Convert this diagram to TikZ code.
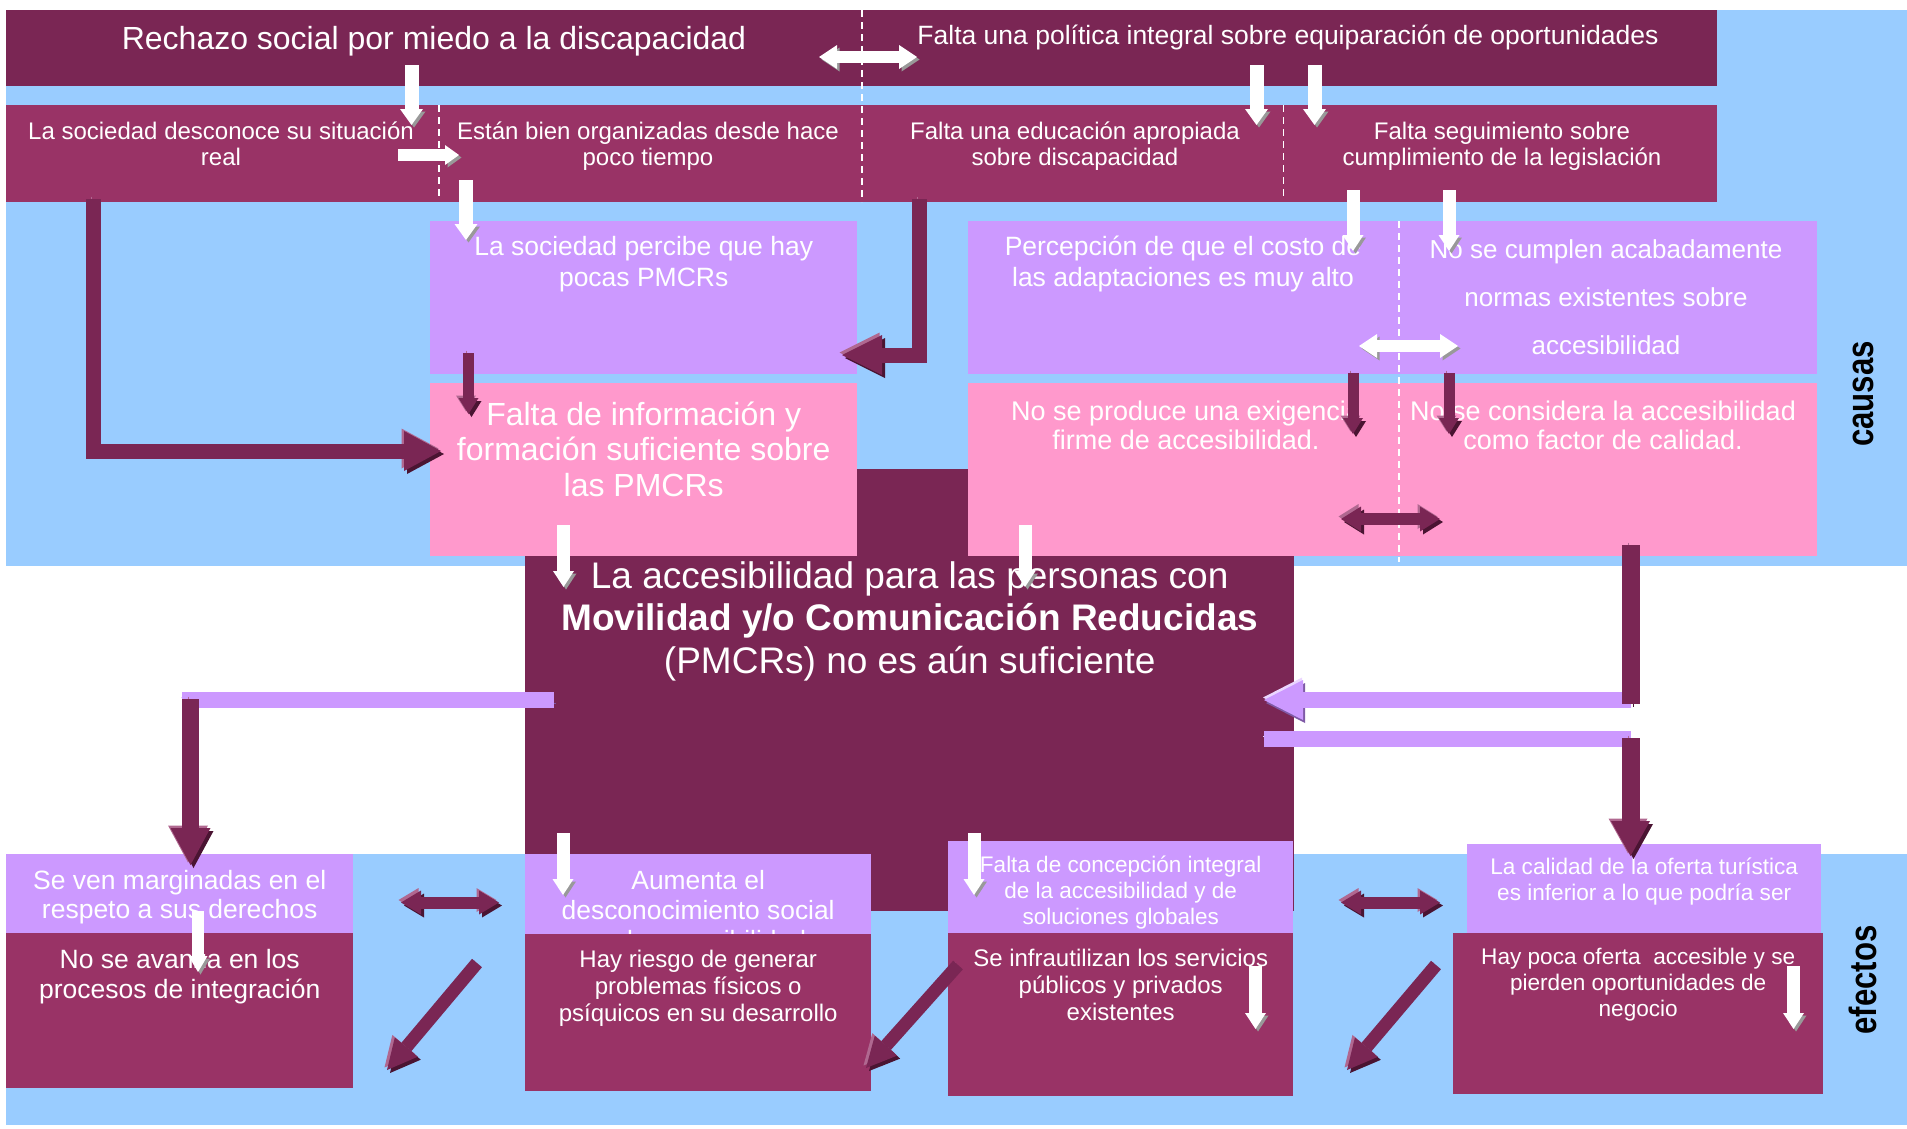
\documentclass[tikz,border=0pt]{standalone}
\usepackage{fontspec}
\setmainfont{Liberation Sans}
\newfontfamily\sidefont{Liberation Sans}[FakeStretch=0.82]
\usepackage{xcolor}
\usetikzlibrary{arrows.meta,positioning}

\definecolor{plum}{HTML}{7A2654}
\definecolor{plumhi}{HTML}{B06890}
\definecolor{plumlo}{HTML}{4A1432}
\definecolor{berry}{HTML}{993366}
\definecolor{lav}{HTML}{CC99FF}
\definecolor{lavhi}{HTML}{EBD6FF}
\definecolor{lavlo}{HTML}{7F5AA6}
\definecolor{rosa}{HTML}{FF99CC}
\definecolor{sky}{HTML}{99CCFF}

\newcommand{\fsz}[2]{\fontsize{#1}{#2}\selectfont}

\tikzset{
  panel/.style={rectangle, inner sep=0pt, anchor=north west, draw=none},
  txt/.style={text=white, align=center, inner sep=0pt, anchor=north},
  sidelabel/.style={text=black, inner sep=0pt, rotate=90, font=\sidefont\bfseries\fsz{38}{40}},
  sep/.style={draw=white, line width=1.5pt, dash pattern=on 7pt off 5pt},
  plumarrow/.style={draw=plum, line width=#1, line join=miter,
    preaction={draw=plumhi, transform canvas={shift={(-2.5pt,2.5pt)}}},
    preaction={draw=plumlo, transform canvas={shift={(3pt,-3pt)}}}},
  whitearrow/.style={draw=white, line width=#1, line join=miter,
    preaction={draw=black!40, transform canvas={shift={(2.5pt,-2.5pt)}}}},
  lavbar/.style={draw=lav, line width=#1,
    preaction={draw=lavhi, transform canvas={shift={(-1pt,2.5pt)}}},
    preaction={draw=lavlo, transform canvas={shift={(2pt,-3pt)}}}},
  headed/.style 2 args={arrows={-Triangle[length=#1,width=#2,line width=0pt]}},
  twohead/.style 2 args={arrows={Triangle[length=#1,width=#2,line width=0pt]-Triangle[length=#1,width=#2,line width=0pt]}},
}

\begin{document}
\begin{tikzpicture}[x=1pt, y=-1pt]
\useasboundingbox (0,0) rectangle (1907,1128);

% Backgrounds
\node[panel, fill=sky, minimum width=1901pt, minimum height=556pt] (causasbg) at (6,10) {};
\node[panel, fill=sky, minimum width=1901pt, minimum height=271pt] (efectosbg) at (6,854) {};

% Central problem
\node[panel, fill=plum, minimum width=769pt, minimum height=442pt] (core) at (525,469) {};

% Causes
\node[panel, fill=plum, minimum width=1711pt, minimum height=76pt] (row1) at (6,10) {};
\node[panel, fill=berry, minimum width=1711pt, minimum height=97pt] (row2) at (6,105) {};
\node[panel, fill=lav, minimum width=427pt, minimum height=153pt] (percibe) at (430,221) {};
\node[panel, fill=rosa, minimum width=427pt, minimum height=173pt] (faltainfo) at (430,383) {};
\node[panel, fill=lav, minimum width=849pt, minimum height=153pt] (costo) at (968,221) {};
\node[panel, fill=rosa, minimum width=849pt, minimum height=173pt] (exige) at (968,383) {};

% Effects
\node[panel, fill=lav, minimum width=347pt, minimum height=79pt] (margin) at (6,854) {};
\node[panel, fill=berry, minimum width=347pt, minimum height=155pt] (avanza) at (6,933) {};
\node[panel, fill=lav, minimum width=346pt, minimum height=80pt] (aumenta) at (525,854) {};
\begin{scope}
\clip (aumenta.north west) rectangle (aumenta.south east);
\node[txt, font=\fsz{26.4}{30}, below=16pt of aumenta.north] (taumenta) {Aumenta el\\desconocimiento social\\en la accesibilidad};
\end{scope}
\node[panel, fill=berry, minimum width=346pt, minimum height=157pt] (riesgo) at (525,934) {};
\node[panel, fill=lav, minimum width=345pt, minimum height=92pt] (concep) at (948,841) {};
\node[panel, fill=berry, minimum width=345pt, minimum height=163pt] (infra) at (948,933) {};
\node[panel, fill=lav, minimum width=354pt, minimum height=89pt] (calidad) at (1467,844) {};
\node[panel, fill=berry, minimum width=370pt, minimum height=161pt] (oferta) at (1453,933) {};

% Dashed separators
\draw[sep] (862,10) -- (862,202);
\draw[sep] (439,105) -- (439,196);
\draw[sep] (1283.5,105) -- (1283.5,196);
\draw[sep] (1399,221) -- (1399,562);

% Texts: causes
\node[text=white, inner sep=0pt, anchor=base, font=\fsz{32}{36}] (trechazo) at (434,49) {Rechazo social por miedo a la discapacidad};
\node[text=white, inner sep=0pt, anchor=base, font=\fsz{26.5}{30}] (tpolitica) at (1288,44) {Falta una política integral sobre equiparación de oportunidades};
\node[txt, font=\fsz{24}{26}] (tdesconoce) at (221,121.5) {La sociedad desconoce su situación\\real};
\node[txt, font=\fsz{24}{26}] (torganiza) at (648,121.5) {Están bien organizadas desde hace\\poco tiempo};
\node[txt, font=\fsz{24}{26}] (teduca) at (1075,121.5) {Falta una educación apropiada\\sobre discapacidad};
\node[txt, font=\fsz{24}{26}] (tseguim) at (1502,121.5) {Falta seguimiento sobre\\cumplimiento de la legislación};
\node[txt, font=\fsz{26.5}{31}, below=15pt of percibe.north] (tpercibe) {La sociedad percibe que hay\\pocas PMCRs};
\node[txt, font=\fsz{26.5}{31}] (tcosto) at (1183,236) {Percepción de que el costo de\\las adaptaciones es muy alto};
\node[txt, font=\fsz{26}{48}] (tnormas) at (1606,239) {No se cumplen acabadamente\\normas existentes sobre\\accesibilidad};
\node[txt, font=\fsz{32}{35.5}, below=18.5pt of faltainfo.north] (tfaltainfo) {Falta de información y\\formación suficiente sobre\\las PMCRs};
\node[txt, font=\fsz{27}{29}] (texige) at (1186,400.5) {No se produce una exigencia\\firme de accesibilidad.};
\node[txt, font=\fsz{27}{29}] (tcalidadf) at (1603,400.5) {No se considera la accesibilidad\\como factor de calidad.};

% Text: central problem
\node[txt, font=\fsz{37}{42.5}, below=92pt of core.north] (tcore) {La accesibilidad para las personas con\\\textbf{Movilidad y/o Comunicación Reducidas}\\(PMCRs) no es aún suficiente};

% Texts: effects
\node[txt, font=\fsz{26.5}{29}, below=16pt of margin.north] (tmargin) {Se ven marginadas en el\\respeto a sus derechos};
\node[txt, font=\fsz{26.5}{30}, below=16pt of avanza.north] (tavanza) {No se avanza en los\\procesos de integración};
\node[txt, font=\fsz{24}{27}, below=16pt of riesgo.north] (triesgo) {Hay riesgo de generar\\problemas físicos o\\psíquicos en su desarrollo};
\node[txt, font=\fsz{22.5}{26}, below=15pt of concep.north] (tconcep) {Falta de concepción integral\\de la accesibilidad y de\\soluciones globales};
\node[txt, font=\fsz{24}{27}, below=16pt of infra.north] (tinfra) {Se infrautilizan los servicios\\públicos y privados\\existentes};
\node[txt, font=\fsz{22.6}{26}, below=14pt of calidad.north] (tcalidad) {La calidad de la oferta turística\\es inferior a lo que podría ser};
\node[txt, font=\fsz{22.6}{26}, below=15pt of oferta.north] (toferta) {Hay poca oferta~ accesible y se\\pierden oportunidades de\\negocio};

% Side labels
\node[sidelabel] (causas) at (1863,394) {causas};
\node[sidelabel] (efectos) at (1863,980) {efectos};

% Arrow end points
\coordinate (w1a) at (411.5,65);    \coordinate (w1b) at (411.5,125);
\coordinate (w2a) at (398,155);     \coordinate (w2b) at (459,155);
\coordinate (w3a) at (466,180);     \coordinate (w3b) at (466,240);
\coordinate (w4a) at (819,57);      \coordinate (w4b) at (917,57);
\coordinate (w5a) at (1256.5,65);   \coordinate (w5b) at (1256.5,125);
\coordinate (w6a) at (1314.5,65);   \coordinate (w6b) at (1314.5,125);
\coordinate (w7a) at (1353,190);    \coordinate (w7b) at (1353,251);
\coordinate (w8a) at (1449,190);    \coordinate (w8b) at (1449,251);
\coordinate (w9a) at (1359,346);    \coordinate (w9b) at (1458,346);
\coordinate (w10a) at (563.5,525);  \coordinate (w10b) at (563.5,587);
\coordinate (w11a) at (1025,525);   \coordinate (w11b) at (1025,587);
\coordinate (w12a) at (198,911);    \coordinate (w12b) at (198,972);
\coordinate (w13a) at (563,833);    \coordinate (w13b) at (563,895);
\coordinate (w14a) at (974,833);    \coordinate (w14b) at (974,895);
\coordinate (w15a) at (1255.5,966); \coordinate (w15b) at (1255.5,1029);
\coordinate (w16a) at (1793.5,966); \coordinate (w16b) at (1793.5,1029);

\coordinate (d1a) at (93.5,199);    \coordinate (d1b) at (441,451);
\coordinate (d2a) at (919.5,199);   \coordinate (d2b) at (842,355);
\coordinate (d3a) at (468.5,353);   \coordinate (d3b) at (468.5,414);
\coordinate (d4a) at (1353,373);    \coordinate (d4b) at (1353,434);
\coordinate (d5a) at (1449,373);    \coordinate (d5b) at (1449,434);
\coordinate (d6a) at (1341,519);    \coordinate (d6b) at (1440,519);
\coordinate (d7a) at (401,902.5);   \coordinate (d7b) at (499,902.5);
\coordinate (d8a) at (1341,902.5);  \coordinate (d8b) at (1440,902.5);
\coordinate (d9a) at (477,963);     \coordinate (d9b) at (387,1070);
\coordinate (d10a) at (958,965);    \coordinate (d10b) at (866,1068);
\coordinate (d11a) at (1436,965);   \coordinate (d11b) at (1347,1070);
\coordinate (d12a) at (1630.5,545); \coordinate (d12b) at (1630.5,704);
\coordinate (d13a) at (1630.5,738); \coordinate (d13b) at (1630.5,856);
\coordinate (d14a) at (190.5,699);  \coordinate (d14b) at (190.5,865);

\coordinate (l1a) at (1631,700);    \coordinate (l1b) at (1264,700);
\coordinate (l2a) at (1264,739);    \coordinate (l2b) at (1631,739);
\coordinate (l3a) at (554,700);     \coordinate (l3b) at (182,700);

% Lavender arrows between problem and effects
\draw[lavbar=16.5pt, headed={39pt}{40pt}] (l1a) -- (l1b);
\draw[lavbar=16pt] (l2a) -- (l2b);
\draw[lavbar=16.5pt] (l3a) -- (l3b);

% Dark arrows
\draw[plumarrow=15pt, headed={37pt}{40pt}] (d1a) |- (d1b);
\draw[plumarrow=15pt, headed={40pt}{40pt}] (d2a) |- (d2b);
\draw[plumarrow=11pt, headed={16pt}{20pt}] (d3a) -- (d3b);
\draw[plumarrow=11pt, headed={16pt}{20pt}] (d4a) -- (d4b);
\draw[plumarrow=11pt, headed={16pt}{20pt}] (d5a) -- (d5b);
\draw[plumarrow=12pt, twohead={20pt}{25pt}] (d6a) -- (d6b);
\draw[plumarrow=12pt, twohead={20pt}{24pt}] (d7a) -- (d7b);
\draw[plumarrow=12pt, twohead={20pt}{24pt}] (d8a) -- (d8b);
\draw[plumarrow=13pt, headed={30pt}{30pt}] (d9a) -- (d9b);
\draw[plumarrow=13pt, headed={30pt}{30pt}] (d10a) -- (d10b);
\draw[plumarrow=13pt, headed={30pt}{30pt}] (d11a) -- (d11b);
\draw[plumarrow=18pt] (d12a) -- (d12b);
\draw[plumarrow=18pt, headed={35pt}{39pt}] (d13a) -- (d13b);
\draw[plumarrow=17pt, headed={37pt}{40pt}] (d14a) -- (d14b);

% White arrows
\draw[whitearrow=14pt, headed={16pt}{23pt}] (w1a) -- (w1b);
\draw[whitearrow=12pt, headed={14pt}{20pt}] (w2a) -- (w2b);
\draw[whitearrow=14pt, headed={16pt}{23pt}] (w3a) -- (w3b);
\draw[whitearrow=12pt, twohead={18pt}{24pt}] (w4a) -- (w4b);
\draw[whitearrow=14pt, headed={16pt}{23pt}] (w5a) -- (w5b);
\draw[whitearrow=14pt, headed={16pt}{23pt}] (w6a) -- (w6b);
\draw[whitearrow=13pt, headed={16pt}{21pt}] (w7a) -- (w7b);
\draw[whitearrow=13pt, headed={16pt}{21pt}] (w8a) -- (w8b);
\draw[whitearrow=12pt, twohead={18pt}{24pt}] (w9a) -- (w9b);
\draw[whitearrow=13pt, headed={16pt}{21pt}] (w10a) -- (w10b);
\draw[whitearrow=13pt, headed={16pt}{21pt}] (w11a) -- (w11b);
\draw[whitearrow=12pt, headed={16pt}{19pt}] (w12a) -- (w12b);
\draw[whitearrow=13pt, headed={16pt}{21pt}] (w13a) -- (w13b);
\draw[whitearrow=13pt, headed={16pt}{21pt}] (w14a) -- (w14b);
\draw[whitearrow=13pt, headed={16pt}{21pt}] (w15a) -- (w15b);
\draw[whitearrow=13pt, headed={16pt}{21pt}] (w16a) -- (w16b);
\end{tikzpicture}
\end{document}
